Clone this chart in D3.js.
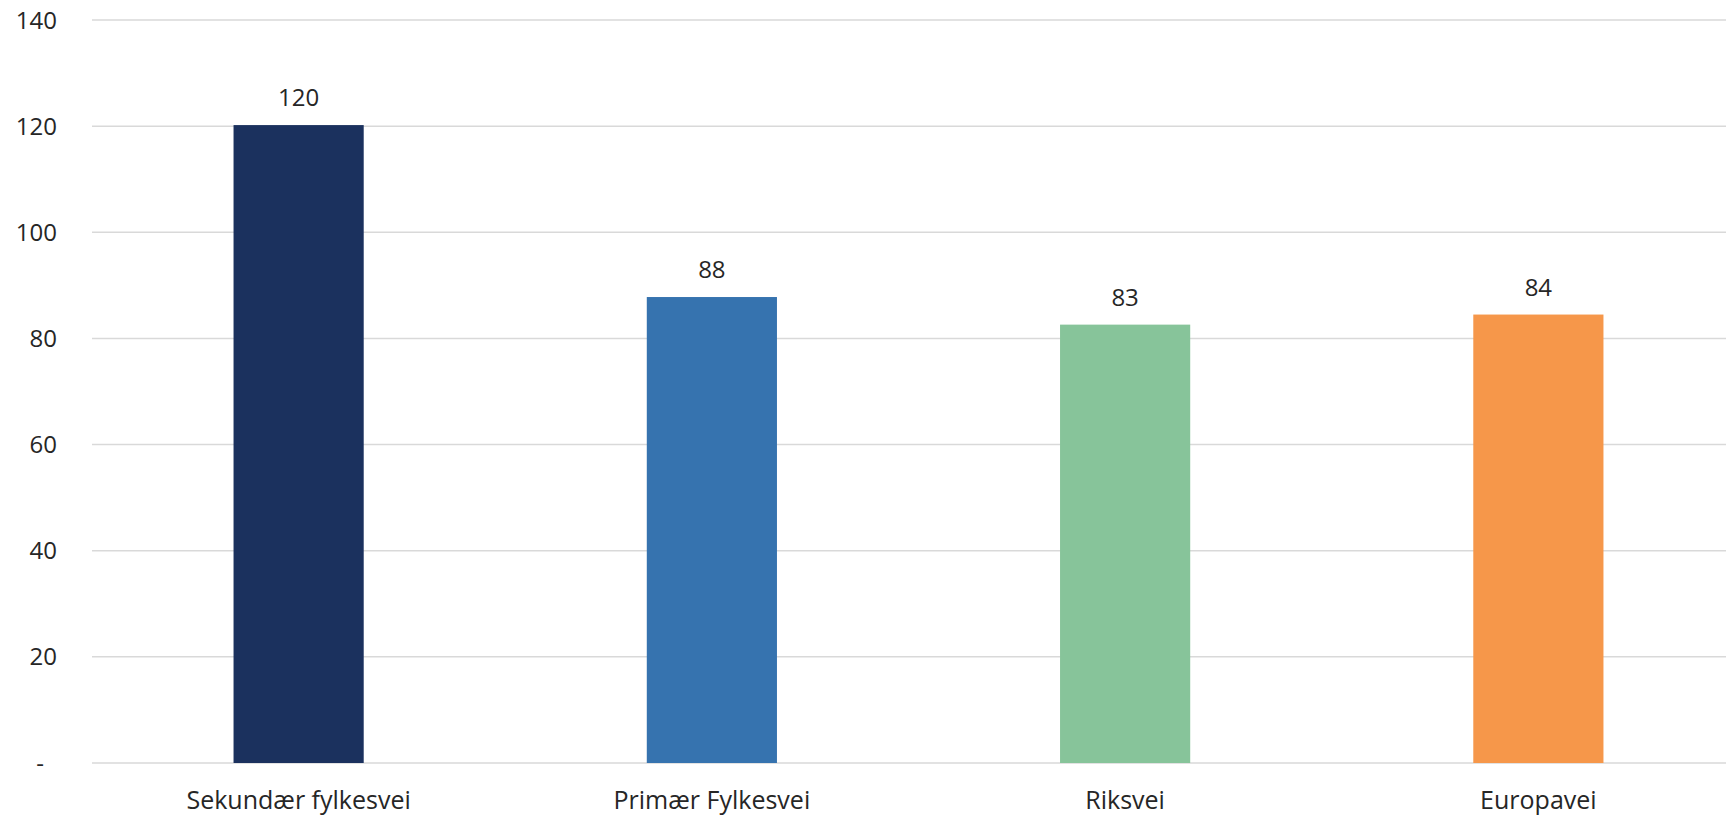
<!DOCTYPE html>
<html>
<head>
<meta charset="utf-8">
<script src="https://cdn.jsdelivr.net/npm/d3@7"></script>
<style>
  html, body { margin: 0; padding: 0; background: #ffffff; }
  svg { display: block; }
  text { font-family: "Open Sans", "Liberation Sans", sans-serif; fill: #262626; }
</style>
</head>
<body>
<svg id="chart" width="1726" height="817"></svg>
<script>
const categories = ["Sekundær fylkesvei", "Primær Fylkesvei", "Riksvei", "Europavei"];
const values = [120.2, 87.8, 82.6, 84.5];
const valueLabels = ["120", "88", "83", "84"];
const colors = ["#1B315E", "#3673AF", "#87C49A", "#F6974A"];
const tickValues = [0, 20, 40, 60, 80, 100, 120, 140];
const tickLabels = ["-", "20", "40", "60", "80", "100", "120", "140"];

const W = 1726, H = 817;
const svg = d3.select("#chart");

const x = d3.scaleBand().domain(categories).range([92, 1745]).paddingInner(0.685).paddingOuter(0.3425);
const y = d3.scaleLinear().domain([0, 140]).range([763, 20]);

// gridlines
svg.append("g").selectAll("line").data(tickValues).join("line")
  .attr("x1", 92).attr("x2", W)
  .attr("y1", d => y(d)).attr("y2", d => y(d))
  .attr("stroke", "#D9D9D9").attr("stroke-width", 1.5);

// y tick labels
svg.append("g").selectAll("text").data(tickValues).join("text")
  .attr("x", d => d === 0 ? 44 : 57)
  .attr("y", d => y(d))
  .attr("dy", "0.36em")
  .attr("text-anchor", "end")
  .attr("font-size", 24)
  .text((d, i) => tickLabels[i]);

// bars
svg.append("g").selectAll("rect").data(values).join("rect")
  .attr("x", (d, i) => x(categories[i]))
  .attr("width", x.bandwidth())
  .attr("y", d => y(d))
  .attr("height", d => y(0) - y(d))
  .attr("fill", (d, i) => colors[i]);

// value labels
svg.append("g").selectAll("text").data(values).join("text")
  .attr("x", (d, i) => x(categories[i]) + x.bandwidth() / 2)
  .attr("y", d => y(d) - 19)
  .attr("text-anchor", "middle")
  .attr("font-size", 24)
  .text((d, i) => valueLabels[i]);

// category labels
svg.append("g").selectAll("text").data(categories).join("text")
  .attr("x", d => x(d) + x.bandwidth() / 2)
  .attr("y", 809)
  .attr("text-anchor", "middle")
  .attr("font-size", 25)
  .text(d => d);
</script>
</body>
</html>
